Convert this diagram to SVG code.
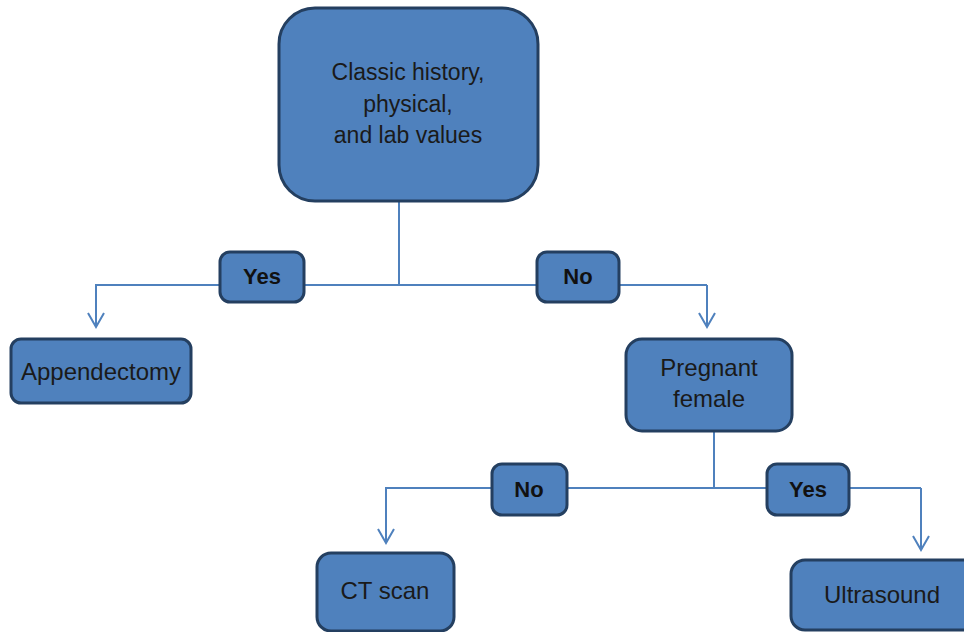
<svg xmlns="http://www.w3.org/2000/svg" width="964" height="632" viewBox="0 0 964 632">
<defs>
<style>
.box{fill:#4F81BD;stroke:#243F60;stroke-width:3}
.t{font-family:"Liberation Sans",Arial,sans-serif;font-size:24px;fill:#1a1a1a;text-anchor:middle}
.lb{font-family:"Liberation Sans",Arial,sans-serif;font-size:22px;font-weight:bold;fill:#111;text-anchor:middle}
.c{fill:none;stroke:#4F81BD;stroke-width:2}
</style>
<marker id="arr" viewBox="0 0 20 20" refX="18" refY="10" markerWidth="20" markerHeight="20" markerUnits="userSpaceOnUse" orient="auto">
<path d="M4,2 L18,10 L4,18" fill="none" stroke="#4F81BD" stroke-width="2"/>
</marker>
</defs>
<rect width="964" height="632" fill="#fff"/>
<g id="connectors">
<path class="c" d="M399,201 V285"/>
<path class="c" d="M707,285 H96 V327" marker-end="url(#arr)"/>
<path class="c" d="M707,285 V327" marker-end="url(#arr)"/>
<path class="c" d="M714,431 V488"/>
<path class="c" d="M921,488 H386 V543" marker-end="url(#arr)"/>
<path class="c" d="M921,488 V550" marker-end="url(#arr)"/>
</g>
<g id="n-classic">
<rect class="box" x="279" y="8" width="259" height="193" rx="36"/>
<text class="t" x="408" y="80" style="font-size:23px">Classic history,</text>
<text class="t" x="408" y="112" style="font-size:23px">physical,</text>
<text class="t" x="408" y="143" style="font-size:23px">and lab values</text>
</g>
<g id="l-yes1">
<rect class="box" x="220" y="252" width="84" height="50" rx="10"/>
<text class="lb" x="262" y="284">Yes</text>
</g>
<g id="l-no1">
<rect class="box" x="537" y="252" width="82" height="50" rx="10"/>
<text class="lb" x="578" y="284">No</text>
</g>
<g id="n-appendectomy">
<rect class="box" x="11" y="339" width="180" height="64" rx="10"/>
<text class="t" x="101" y="380">Appendectomy</text>
</g>
<g id="n-pregnant">
<rect class="box" x="626" y="339" width="166" height="92" rx="16"/>
<text class="t" x="709" y="376">Pregnant</text>
<text class="t" x="709" y="407">female</text>
</g>
<g id="l-no2">
<rect class="box" x="492" y="464" width="75" height="51" rx="10"/>
<text class="lb" x="529" y="497">No</text>
</g>
<g id="l-yes2">
<rect class="box" x="767" y="464" width="82" height="51" rx="10"/>
<text class="lb" x="808" y="497">Yes</text>
</g>
<g id="n-ct">
<rect class="box" x="317" y="553" width="137" height="78" rx="14"/>
<text class="t" x="385" y="599">CT scan</text>
</g>
<g id="n-ultrasound">
<rect class="box" x="791" y="560" width="190" height="70" rx="14"/>
<text class="t" x="882" y="603">Ultrasound</text>
</g>
</svg>
